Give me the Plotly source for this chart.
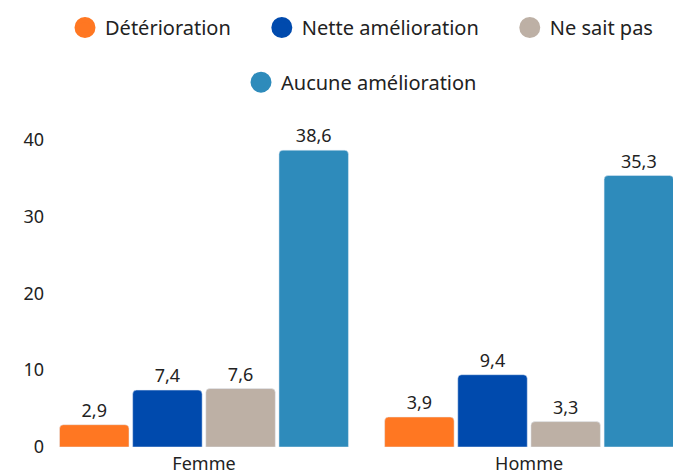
import plotly.graph_objects as go

categories = ["Femme", "Homme"]
series_names = ["Détérioration", "Nette amélioration", "Ne sait pas", "Aucune amélioration"]
values_deterioration = [2.9, 3.9]
values_nette = [7.4, 9.4]
values_nsp = [7.6, 3.3]
values_aucune = [38.6, 35.3]
y_ticks = [0, 10, 20, 30, 40]

colors = ["#FF7722", "#004AAD", "#BDB0A5", "#2E8BBB"]
all_values = [values_deterioration, values_nette, values_nsp, values_aucune]

FONT = "Noto Sans"
TXT = "#222222"
PAD = "\u00a0" * 5
fig = go.Figure()
for name, vals, col in zip(series_names, all_values, colors):
    fig.add_trace(go.Bar(
        x=categories, y=vals, name=name, marker_color=col, showlegend=False,
        text=[f"{v:.1f}".replace(".", ",") for v in vals],
        textposition="outside", cliponaxis=False,
        textfont=dict(size=18, color=TXT, family=FONT),
    ))

for i, (name, col) in enumerate(zip(series_names, colors)):
    label = name + PAD if i < 2 else name
    fig.add_trace(go.Scatter(
        x=[None], y=[None], mode="markers", name=label,
        marker=dict(symbol="circle", size=16, color=col, line=dict(width=5, color=col)),
        legend="legend" if i < 3 else "legend2",
    ))

fig.update_layout(
    width=681, height=475,
    margin=dict(l=37, r=11, t=116, b=36),
    paper_bgcolor="white", plot_bgcolor="white",
    barmode="group", bargap=0.1, bargroupgap=0.05, barcornerradius=4,
    font=dict(family=FONT, size=18, color=TXT),
    legend=dict(orientation="h", x=0.5, xanchor="center", y=1.0, yref="container",
                yanchor="top", font=dict(size=20, family=FONT, color=TXT),
                itemsizing="trace", traceorder="normal"),
    legend2=dict(orientation="h", x=0.5, xanchor="center", y=0.885, yref="container",
                 yanchor="top", font=dict(size=20, family=FONT, color=TXT),
                 itemsizing="trace"),
    xaxis=dict(range=[-0.489, 1.458], showgrid=False, showline=False, ticks="",
               ticklabelstandoff=4, automargin=False,
               tickfont=dict(size=18, color=TXT)),
    yaxis=dict(range=[0, 42], tickvals=y_ticks, showgrid=False, zeroline=False,
               showline=False, ticks="", tickfont=dict(size=18, color=TXT)),
)

fig.write_html("out.html")
